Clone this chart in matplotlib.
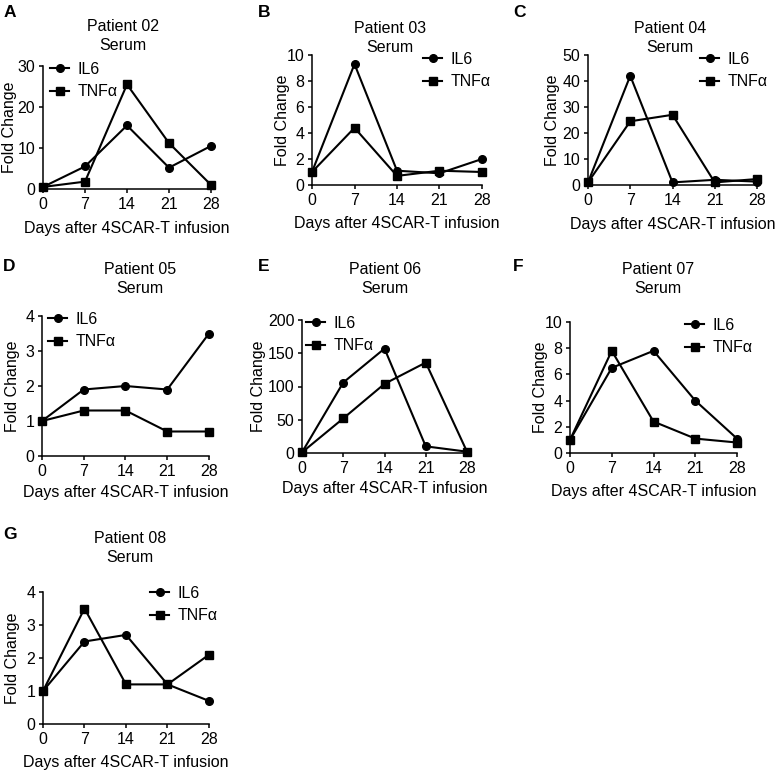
import numpy as np
import matplotlib
matplotlib.use('Agg')
import matplotlib.pyplot as plt

plt.rcParams['font.family'] = ['Liberation Sans', 'DejaVu Sans']

days = [0, 7, 14, 21, 28]
day_ticks = [0, 7, 14, 21, 28]

panel_letters = ['A', 'B', 'C', 'D', 'E', 'F', 'G']
patients = ['Patient 02', 'Patient 03', 'Patient 04', 'Patient 05',
            'Patient 06', 'Patient 07', 'Patient 08']

il6_02 = [0.5, 5.5, 15.5, 5.2, 10.5]
tnf_02 = [0.5, 1.8, 25.5, 11.2, 1.0]
il6_03 = [1.0, 9.3, 1.1, 0.9, 2.0]
tnf_03 = [1.0, 4.4, 0.7, 1.1, 1.0]
il6_04 = [1.0, 42.0, 1.0, 2.0, 1.3]
tnf_04 = [1.0, 24.5, 27.0, 1.0, 2.3]
il6_05 = [1.0, 1.9, 2.0, 1.9, 3.5]
tnf_05 = [1.0, 1.3, 1.3, 0.7, 0.7]
il6_06 = [1.0, 106.0, 157.0, 10.0, 2.0]
tnf_06 = [1.0, 52.0, 104.0, 136.0, 2.0]
il6_07 = [1.0, 6.5, 7.8, 4.0, 1.1]
tnf_07 = [1.0, 7.8, 2.4, 1.1, 0.8]
il6_08 = [1.0, 2.5, 2.7, 1.2, 0.7]
tnf_08 = [1.0, 3.5, 1.2, 1.2, 2.1]

il6_all = [il6_02, il6_03, il6_04, il6_05, il6_06, il6_07, il6_08]
tnf_all = [tnf_02, tnf_03, tnf_04, tnf_05, tnf_06, tnf_07, tnf_08]
y_max = [30, 10, 50, 4, 200, 10, 4]
y_step = [10, 2, 10, 1, 50, 2, 1]

W, H = 777, 771
fig = plt.figure(figsize=(W / 100, H / 100), dpi=100)

# axes boxes in pixels: left, top, right, bottom
boxes = [(43, 66, 211, 189), (312, 55, 482, 185), (588, 55, 757, 185),
         (42, 316, 209, 456), (302, 320, 467, 453), (570, 322, 737, 453),
         (43, 592, 209, 724)]
# legend upper-left corner (pixels)
leg_pos = [(50, 62), (423, 52), (700, 52), (48, 312), (306, 316), (685, 318), (150, 586)]
title_pos = [(123, 36), (390, 38), (670, 38), (140, 279), (385, 279), (658, 279), (130, 548)]
letter_pos = [(4, 5), (258, 5), (513, 5), (3, 259), (258, 259), (513, 259), (3, 527)]
ylab_x = [10, 283, 553, 13, 259, 540, 13]
xlab_y = [229, 223, 225, 493, 489, 492, 762]

lw = 1.5
for i in range(7):
    l, t, r, b = boxes[i]
    ax = fig.add_axes([l / W, 1 - b / H, (r - l) / W, (b - t) / H])
    ax.plot(days, il6_all[i], color='black', marker='o', ms=5.5, lw=lw,
            label='IL6', clip_on=False, zorder=3)
    ax.plot(days, tnf_all[i], color='black', marker='s', ms=5.5, lw=lw,
            label='TNFα', clip_on=False, zorder=3)
    ax.set_xlim(0, 28)
    ax.set_ylim(0, y_max[i])
    ax.set_xticks(day_ticks)
    ax.set_yticks(np.arange(0, y_max[i] + y_step[i] / 2, y_step[i]))
    ax.spines['top'].set_visible(False)
    ax.spines['right'].set_visible(False)
    for s in ['left', 'bottom']:
        ax.spines[s].set_linewidth(1.1)
    ax.tick_params(direction='out', length=3, width=1.1, labelsize=11.5, pad=2.5)
    ax.patch.set_visible(False)

    lx, ly = leg_pos[i]
    ax.legend(loc='upper left', bbox_to_anchor=(lx / W, 1 - ly / H),
              bbox_transform=fig.transFigure, frameon=False, borderpad=0,
              borderaxespad=0, handlelength=1.2, handletextpad=0.5,
              labelspacing=0.45, fontsize=11.5)

    tx, ty = title_pos[i]
    fig.text(tx / W, 1 - ty / H, patients[i] + '\nSerum', ha='center', va='center',
             fontsize=11.5, linespacing=1.3)
    px_, py_ = letter_pos[i]
    fig.text(px_ / W, 1 - py_ / H, panel_letters[i], ha='left', va='top',
             fontsize=12.5, fontweight='bold')
    fig.text(ylab_x[i] / W, 1 - (t + b) / 2 / H, 'Fold Change', rotation=90,
             ha='center', va='center', fontsize=11.5)
    fig.text((l + r) / 2 / W, 1 - xlab_y[i] / H, 'Days after 4SCAR-T infusion',
             ha='center', va='center', fontsize=11.5)

fig.savefig('out.png', dpi=100)
